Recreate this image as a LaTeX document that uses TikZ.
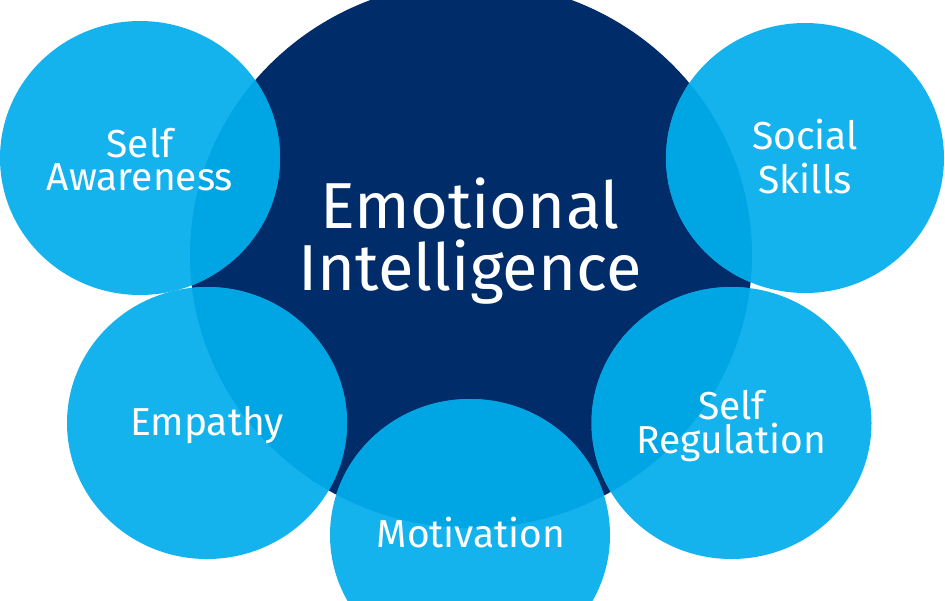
\documentclass[tikz,border=0pt]{standalone}
\usepackage{fontspec}
\setmainfont{Fira Sans}
\definecolor{navy}{RGB}{0,44,105}
\definecolor{lightblue}{RGB}{20,179,238}
\definecolor{overlap}{RGB}{0,166,227}
\begin{document}
\begin{tikzpicture}[x=1pt,y=-1pt,
  small/.style={text=white,inner sep=0pt,anchor=base,font=\fontsize{39}{39}\selectfont},
  top line/.style={small,text depth=0pt},
  low line/.style={small,text height=28pt},
  big/.style={text=white,inner sep=0pt,anchor=base,font=\fontsize{65}{65}\selectfont}]
\useasboundingbox (0,0) rectangle (945,600);
\fill[navy] (471,255) ellipse [x radius=281, y radius=273];
\foreach \c/\cy/\rx/\ry in {140/158/140/137, 805/158/139/135, 207/423/140/136, 731.5/423/140/136, 470/535/140/136}{
  \fill[lightblue] (\c,\cy) ellipse [x radius=\rx, y radius=\ry];
}
\begin{scope}
\clip (471,255) ellipse [x radius=281, y radius=273];
\foreach \c/\cy/\rx/\ry in {140/158/140/137, 805/158/139/135, 207/423/140/136, 731.5/423/140/136, 470/535/140/136}{
  \fill[overlap] (\c,\cy) ellipse [x radius=\rx, y radius=\ry];
}
\end{scope}
\node[big,text depth=0pt] (emo) at (470,228) {Emotional};
\node[big] (intel) at (470,290) {Intelligence};
\node[top line] (sa1) at (140,157) {Self};
\node[low line] (sa2) at (140,190) {Awareness};
\node[top line] (ss1) at (805,149) {Social};
\node[low line] (ss2) at (805,193) {Skills};
\node[small] (emp) at (207,435) {Empathy};
\node[top line] (sr1) at (731.5,419) {Self};
\node[low line] (sr2) at (731.5,453) {Regulation};
\node[small] (mot) at (471,547) {Motivation};
\end{tikzpicture}
\end{document}
